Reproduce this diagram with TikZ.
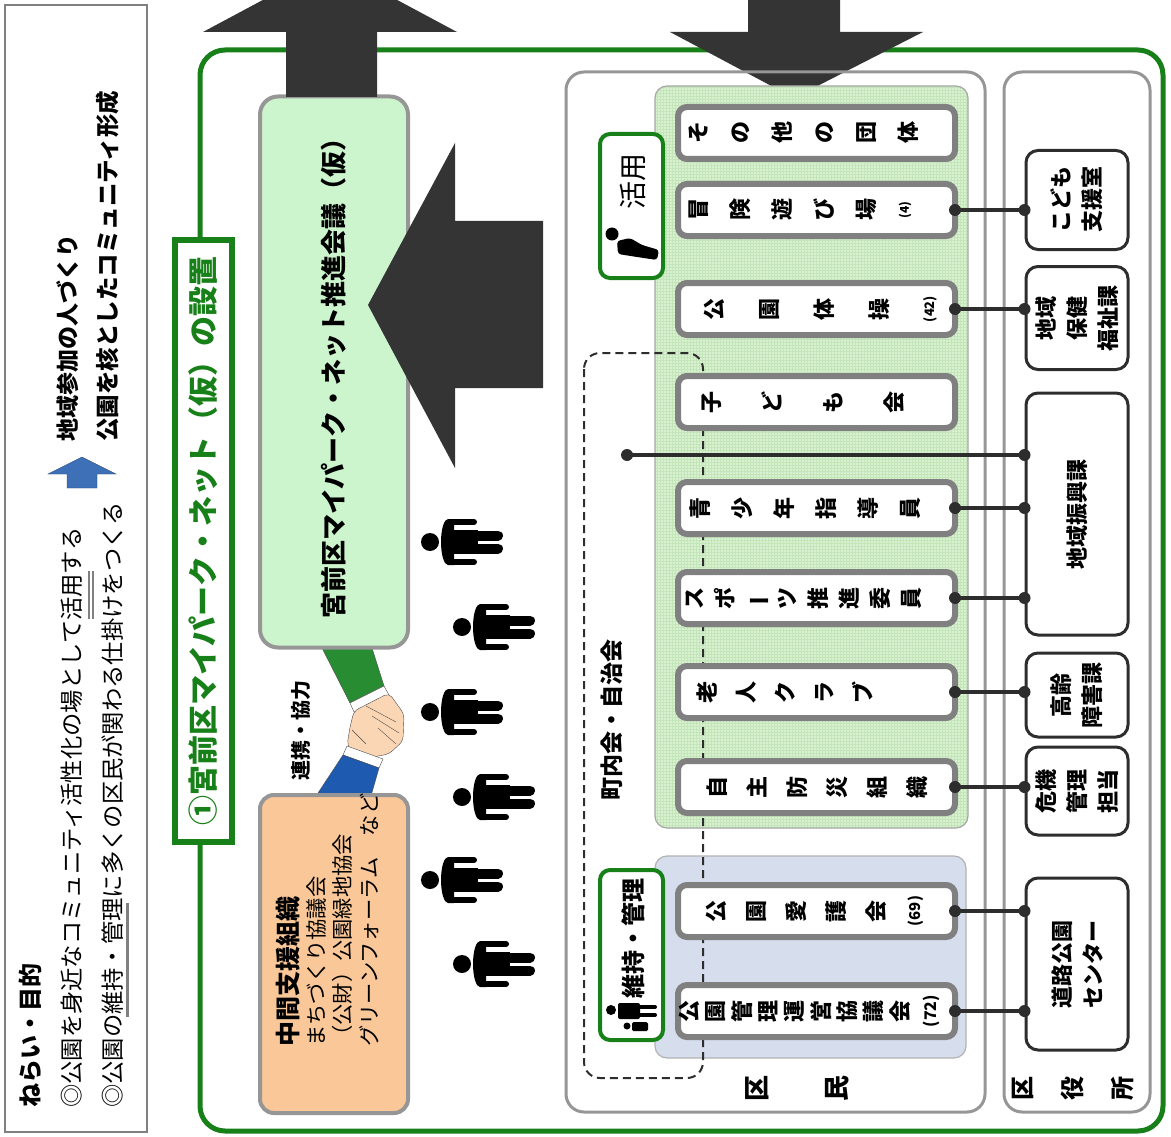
\documentclass[tikz,border=0pt]{standalone}
\usepackage{fontspec}
\setmainfont{Noto Sans CJK JP}
\usetikzlibrary{patterns}

\definecolor{parkgreen}{RGB}{24,128,24}
\definecolor{framegray}{RGB}{150,150,150}
\definecolor{itemgray}{RGB}{128,128,128}
\definecolor{arrowgray}{RGB}{52,52,52}
\definecolor{linkgray}{RGB}{45,45,45}
\definecolor{netgreen}{RGB}{205,245,205}
\definecolor{areagreen}{RGB}{216,241,208}
\definecolor{gridgreen}{RGB}{196,228,186}
\definecolor{areablue}{RGB}{214,221,237}
\definecolor{peach}{RGB}{250,199,152}
\definecolor{aimblue}{RGB}{62,112,184}
\definecolor{sleevegreen}{RGB}{40,140,50}
\definecolor{sleeveblue}{RGB}{30,90,175}
\definecolor{skin}{RGB}{250,214,180}

\tikzset{
  person/.pic={
    \fill (0,0) circle (9);
    \fill (24,-23) -- (18,-23) arc (270:90:7 and 23) -- (24,23) -- cycle;
    \fill (17,-12) rectangle (48,12);
    \draw[line width=6pt,line cap=round] (20,-20) -- (44,-20) (20,20) -- (44,20);
    \draw[line width=10pt,line cap=round] (46,-6.5) -- (68,-6.5) (46,6.5) -- (68,6.5);
  }
}

\begin{document}
\begin{tikzpicture}[x=1pt,y=-1pt,
  vtext/.style={rotate=90,inner sep=0pt,align=center},
  item/.style={draw=itemgray,line width=6pt,fill=white,rounded corners=9pt,
    minimum width=277pt,minimum height=52pt,inner sep=0pt},
  itemtext/.style={vtext,anchor=north,font=\bfseries\fontsize{22}{#1}\selectfont},
  office/.style={draw=linkgray,line width=3pt,fill=white,rounded corners=12pt,
    rotate=90,align=center,inner sep=0pt,font=\bfseries\fontsize{22}{31}\selectfont},
  link/.style={draw=linkgray,line width=3.5pt},
  tag/.style={draw=parkgreen,line width=4pt,fill=white,rounded corners=10pt,inner sep=0pt}]
\useasboundingbox (0,0) rectangle (1171,1137);

% aims on the left
\draw[itemgray,line width=1.5pt] (5,5) rectangle (147,1132);
\node[vtext,anchor=west,font=\bfseries\fontsize{24}{24}\selectfont] (aim) at (30,1108) {ねらい・目的};
\node[vtext,anchor=west,font=\fontsize{23.3}{23.3}\selectfont] (aim1) at (72,1108) {◎公園を身近なコミュニティ活性化の場として活用する};
\node[vtext,anchor=west,font=\fontsize{23.3}{23.3}\selectfont] (aim2) at (113,1108) {◎公園の維持・管理に多くの区民が関わる仕掛けをつくる};
\draw[itemgray,line width=1.5pt] (89,571) -- (89,619) (93,571) -- (93,619);
\draw[itemgray,line width=3pt] (127,903) -- (127,1017);
\fill[aimblue,draw=aimblue!60!black] (82,457) -- (116,474) -- (97,474) -- (97,488)
  -- (67,488) -- (67,474) -- (48,474) -- cycle;
\node[vtext,anchor=west,font=\bfseries\fontsize{23}{23}\selectfont] (goal1) at (68,442) {地域参加の人づくり};
\node[vtext,anchor=west,font=\bfseries\fontsize{23.5}{23.5}\selectfont] (goal2) at (108,442) {公園を核としたコミュニティ形成};

% whole net
\draw[parkgreen,line width=5pt,rounded corners=25pt] (200,50) rectangle (1163,1131);
\node[vtext,draw=parkgreen,line width=6pt,fill=white,minimum width=602pt,minimum height=57pt,
  text=parkgreen,font=\bfseries\fontsize{30}{30}\selectfont] (title) at (203.5,541) {①宮前区マイパーク・ネット（仮）の設置};

% handshake
\filldraw[fill=sleevegreen,draw=black!70] (322,648) -- (372,648) -- (384,686) -- (350,703) -- cycle;
\filldraw[fill=white,draw=black!70] (350,703) -- (384,686) -- (389,695) -- (354,712) -- cycle;
\filldraw[fill=skin,draw=black!70,rounded corners=5pt] (354,711) -- (389,693) -- (404,714)
  -- (403,741) -- (389,754) -- (362,759) -- (347,746) -- (350,727) -- cycle;
\draw[black!70] (366,706) -- (396,722) (372,716) -- (399,733) (378,728) -- (396,744) (352,730) -- (366,744);
\filldraw[fill=white,draw=black!70] (347,746) -- (383,759) -- (379,768) -- (343,755) -- cycle;
\filldraw[fill=sleeveblue,draw=black!70] (343,755) -- (379,768) -- (371,796) -- (316,796) -- cycle;
\node[vtext,font=\bfseries\fontsize{20}{20}\selectfont] (renkei) at (301,730) {連携・協力};

% council and support groups
\node[vtext,fill=netgreen,draw=framegray,line width=4pt,rounded corners=18pt,
  minimum width=551pt,minimum height=148pt,font=\bfseries\fontsize{26}{26}\selectfont] (suishin) at (334,372)
  {宮前区マイパーク・ネット推進会議（仮）};
\node[fill=peach,draw=framegray,line width=4pt,rounded corners=14pt,
  minimum width=148pt,minimum height=318pt] (chukan) at (334,954) {};
\node[vtext,anchor=north west,align=left,font=\fontsize{21.3}{26.5}\selectfont] (chukantext) at (276,1047)
  {{\bfseries\fontsize{25}{25}\selectfont 中間支援組織}\\まちづくり協議会\\（公財）公園緑地協会\\グリーンフォーラム　など};

% big arrows
\fill[arrowgray] (286,97) -- (286,32) -- (203,32) -- (330,-36) -- (457,32) -- (377,32) -- (377,97) -- cycle;
\fill[arrowgray] (748,-5) -- (748,32) -- (670,32) -- (794,98) -- (923,32) -- (840,32) -- (840,-5) -- cycle;
\fill[arrowgray] (543,221) -- (455,221) -- (455,143) -- (368,305) -- (455,468) -- (455,388) -- (543,388) -- cycle;

% residents
\foreach \px/\py in {430/542, 462/627, 430/712, 462/797, 430/880, 462/964}
  \pic at (\px,\py) {person};

\draw[framegray,line width=3pt,rounded corners=18pt] (566,72) rectangle (985,1112);
\fill[areagreen] [rounded corners=12pt] (655,86) rectangle (968,828);
\fill[pattern=grid,pattern color=gridgreen] [rounded corners=12pt] (655,86) rectangle (968,828);
\draw[black!35,line width=1.2pt,rounded corners=12pt] (655,86) rectangle (968,828);
\filldraw[fill=areablue,draw=black!30,line width=1.2pt,rounded corners=12pt] (655,856) rectangle (966,1058);
\draw[linkgray,line width=2pt,dash pattern=on 8pt off 5pt,rounded corners=16pt] (584,353) rectangle (703,1078);
\node[vtext,font=\bfseries\fontsize{23}{23}\selectfont] (chonaikai) at (612,720) {町内会・自治会};
\node[vtext,font=\bfseries\fontsize{26}{80}\selectfont] (kumin) at (797,1088) {区\\民};

\node[item] (sonota)    at (816.5,133) {};
\node[item] (bouken)    at (816.5,210) {};
\node[item] (taiso)     at (816.5,309) {};
\node[item] (kodomokai) at (816.5,402) {};
\node[item] (seisho)    at (816.5,508) {};
\node[item] (sports)    at (816.5,598) {};
\node[item] (rojin)     at (816.5,692) {};
\node[item] (bosai)     at (816.5,787) {};
\node[item] (aigo)      at (816.5,911) {};
\node[item] (kanri)     at (816.5,1011) {};

\node[itemtext=42] (sonotaT) at (689,133) {そ\\の\\他\\の\\団\\体};
\node[itemtext=42] (boukenT) at (689,210) {冒\\険\\遊\\び\\場\\[-8pt]{\fontsize{12}{12}\selectfont(4)}};
\node[itemtext=55] (taisoT) at (704,309) {公\\園\\体\\操\\[-8pt]{\fontsize{13}{13}\selectfont(42)}};
\node[itemtext=61] (kodomokaiT) at (702,402) {子\\ど\\も\\会};
\node[itemtext=42] (seishoT) at (689,508) {青\\少\\年\\指\\導\\員};
\node[itemtext=31] (sportsT) at (686,598) {ス\\ポ\\\rotatebox[origin=c]{90}{ー}\\ツ\\推\\進\\委\\員};
\node[itemtext=39] (rojinT) at (696,692) {老\\人\\ク\\ラ\\ブ};
\node[itemtext=40] (bosaiT) at (706,787) {自\\主\\防\\災\\組\\織};
\node[itemtext=40] (aigoT) at (706,911) {公\\園\\愛\\護\\会\\[-4pt]{\fontsize{15}{15}\selectfont(69)}};
\node[itemtext=26.3] (kanriT) at (679,1011) {公\\園\\管\\理\\運\\営\\協\\議\\会\\[2pt]{\fontsize{16}{16}\selectfont(72)}};

% use / upkeep tags
\node[tag,minimum width=63pt,minimum height=144pt] (katsuyo) at (631.5,206) {};
\node[vtext,font=\fontsize{28}{28}\selectfont] (katsuyoT) at (633,182) {活用};
\fill (612,234) circle (6.5);
\fill[rounded corners=3pt] (617,241) -- (630,238) -- (642,245) -- (659,250) -- (657,260) -- (637,257) -- (618,254) -- cycle;
\node[tag,minimum width=63pt,minimum height=170pt] (iji) at (631.5,955) {};
\node[vtext,font=\bfseries\fontsize{24}{24}\selectfont] (ijiT) at (633,938) {維持・管理};
\fill (611,1010) circle (5);
\fill[rounded corners=2pt] (618,1003) rectangle (640,1019);
\draw[line width=4pt,line cap=round] (640,1007) -- (655,1007) (640,1015) -- (655,1015);
\fill (627,1026) circle (3.5);
\fill[rounded corners=1.5pt] (632,1022) rectangle (648,1031);

% ward office
\draw[framegray,line width=3pt,rounded corners=18pt] (1004,72) rectangle (1150,1112);
\node[office,minimum width=99pt,minimum height=102pt] (kodomo) at (1077,200) {こども\\支援室};
\node[office,minimum width=103pt,minimum height=102pt] (hoken) at (1077,318) {地域\\保健\\福祉課};
\node[office,minimum width=242pt,minimum height=102pt] (shinko) at (1077,514) {地域振興課};
\node[office,minimum width=84pt,minimum height=102pt] (korei) at (1077,695) {高齢\\障害課};
\node[office,minimum width=88pt,minimum height=102pt] (kiki) at (1077,791) {危機\\管理\\担当};
\node[office,minimum width=172pt,minimum height=102pt] (doro) at (1077,964) {道路公園\\センター};
\node[vtext,font=\bfseries\fontsize{24}{50}\selectfont] (yakusho) at (1073,1088) {区\\役\\所};

% links between groups and sections
\coordinate (chonai) at (627,455);
\draw[link] (chonai) -- (chonai -| shinko.north);
\fill[linkgray] (chonai) circle (6) (chonai -| shinko.north) circle (6);
\foreach \a/\b in {bouken/kodomo, taiso/hoken, seisho/shinko, sports/shinko,
                   rojin/korei, bosai/kiki, aigo/doro, kanri/doro}
{
\draw[link] (\a.east) -- (\a.east -| \b.north);
\fill[linkgray] (\a.east) ++(-3,0) circle (6) (\a.east -| \b.north) circle (6);
}
\end{tikzpicture}
\end{document}
